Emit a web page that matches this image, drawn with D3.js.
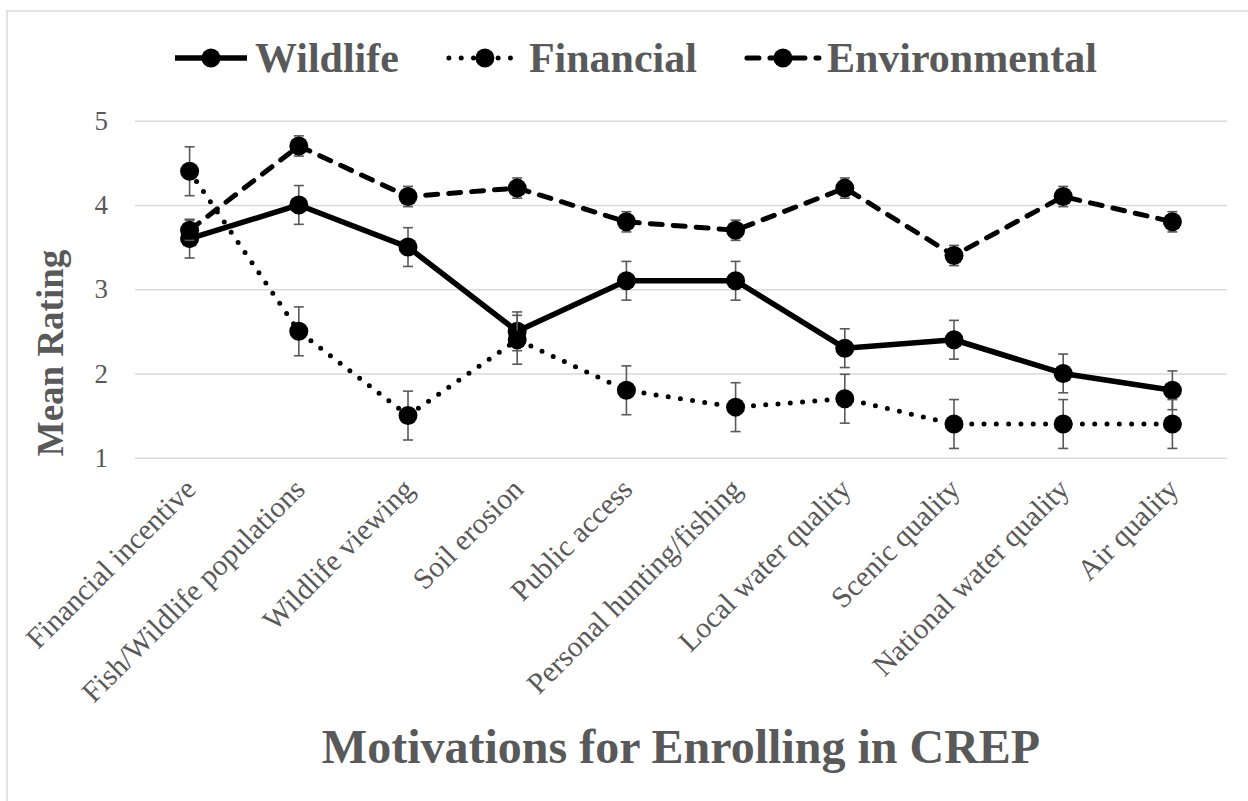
<!DOCTYPE html>
<html>
<head>
<meta charset="utf-8">
<script src="https://cdn.jsdelivr.net/npm/d3@7"></script>
<style>
  body { margin: 0; background: #fff; }
  svg { display: block; }
  text { font-family: "Liberation Serif", "Times New Roman", serif; fill: #595959; }
</style>
</head>
<body>
<svg id="chart" width="1248" height="801"></svg>
<script>
// Motivation categories along the x axis
const categories = [
  "Financial incentive", "Fish/Wildlife populations", "Wildlife viewing",
  "Soil erosion", "Public access", "Personal hunting/fishing",
  "Local water quality", "Scenic quality", "National water quality", "Air quality"
];

// Mean ratings per motivation group
const wildlife      = [3.6, 4.0, 3.5, 2.5, 3.1, 3.1, 2.3, 2.4, 2.0, 1.8];
const financial     = [4.4, 2.5, 1.5, 2.4, 1.8, 1.6, 1.7, 1.4, 1.4, 1.4];
const environmental = [3.7, 4.7, 4.1, 4.2, 3.8, 3.7, 4.2, 3.4, 4.1, 3.8];

// Standard errors (error bar half-lengths)
const wildlifeErr      = [0.23, 0.23, 0.23, 0.23, 0.23, 0.23, 0.23, 0.23, 0.23, 0.23];
const financialErr     = [0.29, 0.29, 0.29, 0.29, 0.29, 0.29, 0.29, 0.29, 0.29, 0.29];
const environmentalErr = [0.12, 0.12, 0.12, 0.12, 0.12, 0.12, 0.12, 0.12, 0.12, 0.12];

const seriesNames = ["Wildlife", "Financial", "Environmental"];
const yTicks = [1, 2, 3, 4, 5];

const axisTitleY = "Mean Rating";
const axisTitleX = "Motivations for Enrolling in CREP";

// Line styles for each series
const styles = {
  Wildlife:      { width: 5.5, dash: null,     cap: "butt"  },
  Financial:     { width: 5,   dash: "0 12.3", cap: "round" },
  Environmental: { width: 5,   dash: "12 11",  cap: "round" }
};

const series = [
  { name: seriesNames[0], values: wildlife,      err: wildlifeErr },
  { name: seriesNames[1], values: financial,     err: financialErr },
  { name: seriesNames[2], values: environmental, err: environmentalErr }
];

const svg = d3.select("#chart");
const plot = { left: 135, right: 1227, top: 120.7, bottom: 457.7 };

// chart area border
svg.append("rect")
  .attr("x", 7).attr("y", 11)
  .attr("width", 1270).attr("height", 820)
  .attr("fill", "#fff").attr("stroke", "#d9d9d9").attr("stroke-width", 1.5);

const x = d3.scalePoint().domain(categories).range([plot.left, plot.right]).padding(0.5);
const y = d3.scaleLinear().domain([1, 5]).range([plot.bottom, plot.top]);

// y axis with horizontal gridlines
const yAxis = svg.append("g")
  .attr("transform", `translate(${plot.left},0)`)
  .call(d3.axisLeft(y).tickValues(yTicks).tickSize(-(plot.right - plot.left)).tickPadding(27).tickFormat(d3.format("d")));
yAxis.select(".domain").remove();
yAxis.selectAll(".tick line").attr("stroke", "#d9d9d9").attr("stroke-width", 1.5);
yAxis.selectAll(".tick text")
  .attr("font-size", 27).attr("fill", "#595959")
  .style("font-family", '"Liberation Serif", "Times New Roman", serif');

// x axis with rotated category labels
const xAxis = svg.append("g")
  .attr("transform", `translate(0,${plot.bottom})`)
  .call(d3.axisBottom(x).tickSize(0));
xAxis.select(".domain").remove();
xAxis.selectAll(".tick text")
  .attr("x", 0).attr("y", 0).attr("dy", "0.35em")
  .attr("transform", "translate(0,26) rotate(-45)")
  .attr("text-anchor", "end")
  .attr("font-size", 29.5).attr("fill", "#595959")
  .style("font-family", '"Liberation Serif", "Times New Roman", serif');

// axis titles
svg.append("text")
  .attr("transform", `translate(63,353) rotate(-90)`)
  .attr("text-anchor", "middle")
  .attr("font-size", 37).attr("font-weight", "bold")
  .text(axisTitleY);

svg.append("text")
  .attr("x", (plot.left + plot.right) / 2).attr("y", 763)
  .attr("text-anchor", "middle")
  .attr("font-size", 48).attr("font-weight", "bold")
  .text(axisTitleX);

// series: line, error bars, markers
const line = d3.line().x((d, i) => x(categories[i])).y(d => y(d));

series.forEach(s => {
  const st = styles[s.name];
  const g = svg.append("g").attr("class", "series");
  g.append("path")
    .attr("d", line(s.values))
    .attr("fill", "none").attr("stroke", "#000")
    .attr("stroke-width", st.width)
    .attr("stroke-linecap", st.cap)
    .attr("stroke-linejoin", "round")
    .attr("stroke-dasharray", st.dash);

  const eb = g.selectAll(".err").data(s.values).join("g").attr("class", "err")
    .attr("stroke", "#595959").attr("stroke-width", 1.6);
  eb.append("line")
    .attr("x1", (d, i) => x(categories[i])).attr("x2", (d, i) => x(categories[i]))
    .attr("y1", (d, i) => y(d + s.err[i])).attr("y2", (d, i) => y(d - s.err[i]));
  eb.append("line")
    .attr("x1", (d, i) => x(categories[i]) - 5).attr("x2", (d, i) => x(categories[i]) + 5)
    .attr("y1", (d, i) => y(d + s.err[i])).attr("y2", (d, i) => y(d + s.err[i]));
  eb.append("line")
    .attr("x1", (d, i) => x(categories[i]) - 5).attr("x2", (d, i) => x(categories[i]) + 5)
    .attr("y1", (d, i) => y(d - s.err[i])).attr("y2", (d, i) => y(d - s.err[i]));

  g.selectAll("circle").data(s.values).join("circle")
    .attr("cx", (d, i) => x(categories[i]))
    .attr("cy", d => y(d))
    .attr("r", 9.5)
    .attr("fill", "#000");
});

// legend
const legend = svg.append("g");
let lx = 175;
const ly = 58;
series.forEach(s => {
  const st = styles[s.name];
  const item = legend.append("g");
  item.append("line")
    .attr("x1", lx).attr("x2", lx + 72).attr("y1", ly).attr("y2", ly)
    .attr("stroke", "#000").attr("stroke-width", st.width)
    .attr("stroke-linecap", st.cap)
    .attr("stroke-dasharray", st.dash);
  item.append("circle").attr("cx", lx + 36).attr("cy", ly).attr("r", 9.5).attr("fill", "#000");
  const t = item.append("text")
    .attr("x", lx + 80).attr("y", ly + 14)
    .attr("font-size", 42).attr("font-weight", "bold")
    .text(s.name);
  lx += 80 + t.node().getComputedTextLength() + 50;
});
</script>
</body>
</html>
